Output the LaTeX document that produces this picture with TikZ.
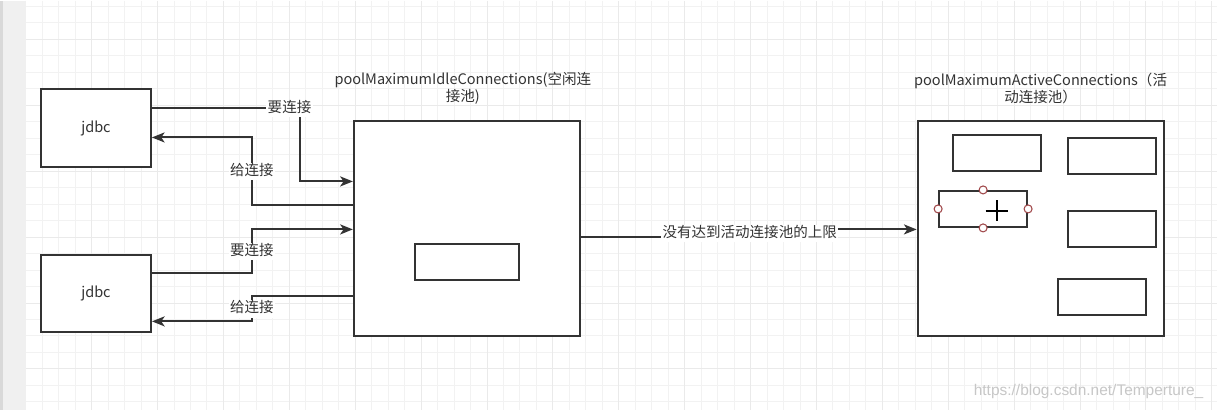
\documentclass[tikz,border=0pt]{standalone}
\usepackage{fontspec}
\setmainfont{Noto Sans CJK SC}
\newfontfamily\wmfont{Liberation Sans}
\usepackage{tikz}
\usetikzlibrary{arrows.meta,calc}
\definecolor{ink}{HTML}{333333}
\definecolor{gridminor}{HTML}{F2F2F2}
\definecolor{gridmajor}{HTML}{EAEAEA}
\definecolor{handlered}{HTML}{A0484A}

\begin{document}
\begin{tikzpicture}[
  x=0.75pt, y=-0.75pt,
  font=\fontsize{10.9}{12.8}\selectfont, text=ink,
  wh/.style 2 args={minimum width=#1*0.75pt, minimum height=#2*0.75pt},
  box/.style={draw=ink, line width=1.5pt, fill=white, inner sep=0pt},
  slot/.style={box, wh={88}{36}},
  title/.style={align=center, inner sep=0pt},
  lbl/.style={fill=white, inner xsep=1pt, inner ysep=1.5pt, text height=0.8em, text depth=0.2em},
  conn/.style={draw=ink, line width=1.5pt, -{Stealth[length=9.5pt, width=7.5pt, inset=2.5pt]}},
  handle/.style={draw=handlered, line width=0.8pt, fill=white},
  cursor/.style={draw=black, line width=1.4pt},
  wm/.style={font=\wmfont\fontsize{11.6}{13}\selectfont, text=black!22, inner sep=0pt},
]
\fill[white] (0,0) rectangle (1217,410);
\foreach \i in {0,...,72} \draw[gridminor, line width=0.75pt] ({25.8+16.48*\i},0) -- ({25.8+16.48*\i},410);
\foreach \j in {0,...,24} \draw[gridminor, line width=0.75pt] (26,{6+16.48*\j}) -- (1217,{6+16.48*\j});
\foreach \i in {0,4,...,72} \draw[gridmajor, line width=0.75pt] ({25.8+16.48*\i},0) -- ({25.8+16.48*\i},410);
\foreach \j in {2,6,...,22} \draw[gridmajor, line width=0.75pt] (26,{6+16.48*\j}) -- (1217,{6+16.48*\j});
\fill[black!6] (0,0) rectangle (26,410);
\fill[black!15] (0,0) rectangle (2.7,410);
\useasboundingbox (0,0) rectangle (1217,410);

\node[box, wh={110}{78}] (jdbcA) at (96,128) {jdbc};
\node[box, wh={110}{77}] (jdbcB) at (96,293.5) {jdbc};
\node[box, wh={226}{215}] (idle) at (467,228.5) {};
\node[slot, wh={104}{36}] (idleslot) at (467,262) {};
\node[box, wh={246}{215}] (active) at (1041,228.5) {};
\foreach \n/\x/\y in {a1/997.5/153, a2/1112/156, a3/983.5/208.5, a4/1112/228.5, a5/1102/297}
  \node[slot] (\n) at (\x,\y) {};

\node[title] (idletitle) at (463,88) {poolMaximumIdleConnections(空闲连\\接池)};
\node[title] (activetitle) at (1041,88) {poolMaximumActiveConnections（活\\动连接池）};

\draw[conn] (jdbcA.east |- 0,108) -- node[lbl, pos=0.93] {要连接} (300,108) -- (300,181) -- (idle.west |- 0,181);
\draw[conn] (idle.west |- 0,205) -- (252,205) -- node[lbl] {给连接} (252,137) -- (jdbcA.east |- 0,137);
\draw[conn] (jdbcB.east |- 0,273) -- (252,273) -- node[lbl] {要连接} (252,229) -- (idle.west |- 0,229);
\draw[conn] (idle.west |- 0,296) -- (252,296) -- node[lbl] {给连接} (252,321) -- (jdbcB.east |- 0,321);
\draw[conn] (idle.east |- 0,237) -- (750,237) -- node[lbl] {没有达到活动连接池的上限} (750,229) -- (active.west |- 0,229);

\foreach \a in {north,south,east,west} \draw[handle] (a3.\a) circle[radius=3pt];
\draw[cursor] (986,210.5) -- (1008,210.5) (997,200) -- (997,221);

\node[wm] (watermark) at (1089,391) {https://blog.csdn.net/Temperture\_};
\end{tikzpicture}
\end{document}
